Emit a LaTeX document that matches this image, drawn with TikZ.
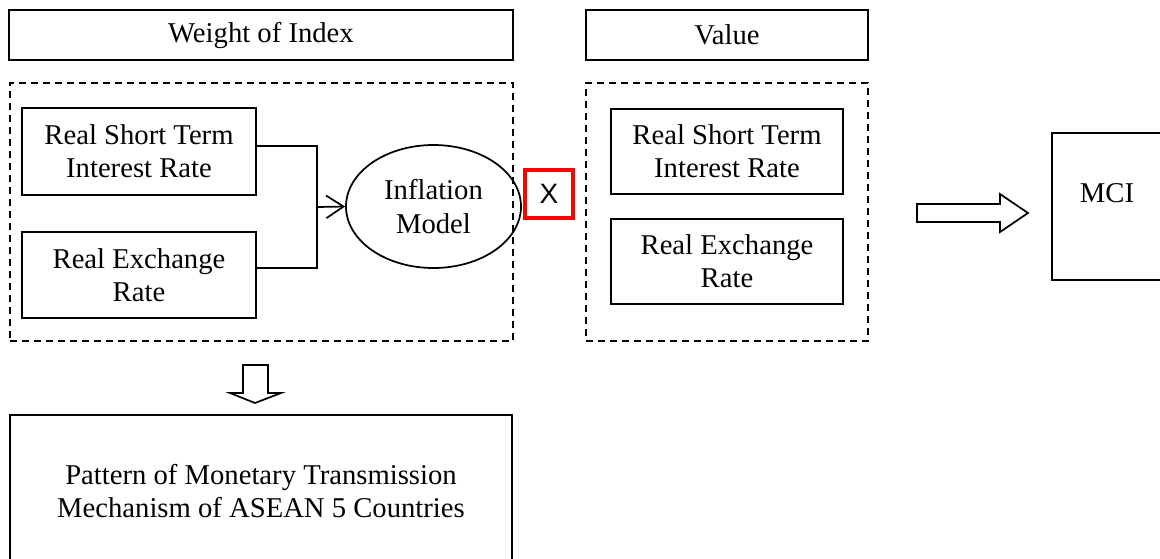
\documentclass[tikz,border=0pt]{standalone}
\usepackage{fontspec}
\setmainfont{Liberation Serif}
\newfontfamily\xsans{Liberation Sans}
\usetikzlibrary{arrows.meta,shapes.geometric}
\begin{document}
\begin{tikzpicture}[x=0.75pt,y=-0.75pt,
  every node/.style={inner sep=0pt, align=center, font=\fontsize{21.5}{25}\selectfont},
  boxn/.style={draw, line width=1.3pt, rectangle},
  dashbox/.style={draw, line width=1.3pt, rectangle, dash pattern=on 5.25pt off 3.75pt},
  conn/.style={line width=1.3pt},
  hollow/.style={draw, line width=1.3pt, fill=white, line join=miter}
]
\useasboundingbox (0,0) rectangle (1160,558);
% headers
\node[boxn, minimum width=378pt, minimum height=37.5pt] (woi) at (261,35) {Weight of Index};
\node[boxn, minimum width=211.5pt, minimum height=37.5pt] (val) at (727,35) {Value};
% dashed groups
\node[dashbox, minimum width=377.25pt, minimum height=193.5pt] (dl) at (261.5,212) {};
\node[dashbox, minimum width=211.5pt, minimum height=193.5pt] (dr) at (727,212) {};
% left inputs
\node[boxn, minimum width=175.5pt, minimum height=65.25pt] (rs1) at (139,151.5) {Real Short Term\\Interest Rate};
\node[boxn, minimum width=175.5pt, minimum height=64.5pt] (re1) at (139,275) {Real Exchange\\Rate};
% inflation model
\node[draw, ellipse, line width=1.3pt, minimum width=131.25pt, minimum height=92.25pt] (infl) at (433.5,206.5) {Inflation\\Model};
% X box
\node[draw=red, line width=3.2pt, minimum width=36pt, minimum height=36pt, font=\xsans\fontsize{21}{22}\selectfont] (xb) at (549,194) {X};
% right values
\node[boxn, minimum width=174pt, minimum height=63.75pt] (rs2) at (727,151.5) {Real Short Term\\Interest Rate};
\node[boxn, minimum width=174pt, minimum height=63.75pt] (re2) at (727,261.5) {Real Exchange\\Rate};
% MCI
\node[boxn, minimum width=96pt, minimum height=110.25pt] (mci) at (1116,206.5) {};
\node (mcit) at (1107,193) {MCI};
% bottom box
\node[boxn, minimum width=376.5pt, minimum height=123.75pt] (pat) at (261,497.5) {};
\node (patt) at (261,491) {Pattern of Monetary Transmission\\Mechanism of ASEAN 5 Countries};
% connectors
\coordinate (j) at (317,207);
\draw[conn] ([yshift=4.1pt]rs1.east) -| (j);
\draw[conn] ([yshift=5.25pt]re1.east) -| (j);
\draw[conn, -{Straight Barb[length=13pt,width=17pt]}] (j) -- (infl.west);
% hollow arrows
\draw[hollow] (917,204) -- (1000,204) -- (1000,194) -- (1028,213) -- (1000,232) -- (1000,222) -- (917,222) -- cycle;
\draw[hollow] (243,365) -- (268,365) -- (268,393) -- (281,393) -- (255,403) -- (230,393) -- (243,393) -- cycle;
\end{tikzpicture}
\end{document}
